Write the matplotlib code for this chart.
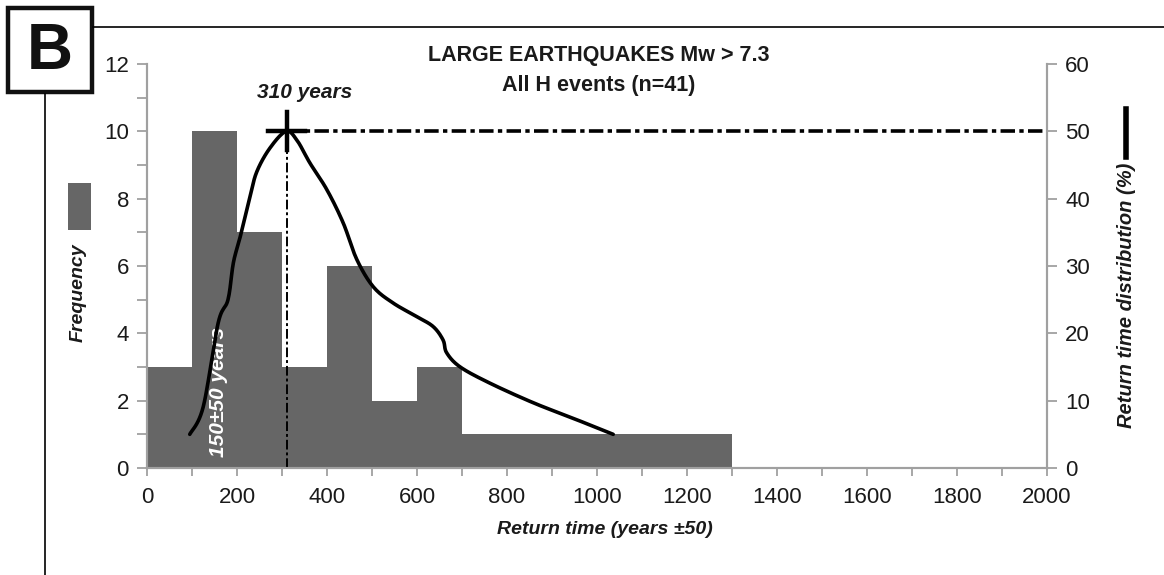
import numpy as np
import matplotlib.pyplot as plt
from matplotlib.patches import Rectangle
from matplotlib.lines import Line2D

plt.rcParams['font.family'] = ['Liberation Sans', 'DejaVu Sans']

# histogram of return times (bins 100 yr wide)
bin_left = [0, 100, 200, 300, 400, 500, 600, 700, 800, 900, 1000, 1100, 1200]
frequency = [3, 10, 7, 3, 6, 2, 3, 1, 1, 1, 1, 1, 1]

# return time distribution curve (%)
curve_years = [95, 125, 158, 180, 192, 207, 229, 244, 273, 309, 333, 362, 400,
               436, 466, 503, 547, 599, 636, 658, 666, 696, 762, 858, 950, 1036]
curve_pct = [5.0, 9.1, 21.5, 25.0, 30.5, 34.3, 40.3, 44.0, 47.5, 50.0, 48.7, 45.3,
             41.3, 36.4, 31.0, 26.9, 24.5, 22.5, 21.0, 19.0, 17.1, 15.0, 12.6,
             9.7, 7.3, 5.0]

peak_year = 310
peak_pct = 50

grey = '#666666'
axis_grey = '#a0a0a0'
txt = '#1a1a1a'


def smooth(xs, ys, n=12):
    # catmull-rom through the points, only to draw a rounded line
    p = np.column_stack([xs, ys]).astype(float)
    p = np.vstack([p[0], p, p[-1]])
    out = []
    t = np.linspace(0, 1, n, endpoint=False)[:, None]
    for i in range(1, len(p) - 2):
        p0, p1, p2, p3 = p[i - 1], p[i], p[i + 1], p[i + 2]
        seg = 0.5 * (2 * p1 + (-p0 + p2) * t + (2 * p0 - 5 * p1 + 4 * p2 - p3) * t ** 2
                     + (-p0 + 3 * p1 - 3 * p2 + p3) * t ** 3)
        out.append(seg)
    out.append(p[-2][None, :])
    out = np.vstack(out)
    return out[:, 0], out[:, 1]


fig = plt.figure(figsize=(11.64, 5.75), dpi=100)
ax = fig.add_axes([147/1164, 1-468/575, 900/1164, 404/575])

ax.bar(bin_left, frequency, width=100, align='edge', color=grey, linewidth=0)
ax.set_xlim(0, 2000)
ax.set_ylim(0, 12)
ax.set_xticks(np.arange(0, 2001, 200))
ax.set_xticks(np.arange(0, 2001, 100), minor=True)
ax.set_yticks(np.arange(0, 13, 2))
ax.set_yticks(np.arange(0, 13, 1), minor=True)

ax2 = ax.twinx()
ax2.set_ylim(0, 60)
ax2.set_yticks(np.arange(0, 61, 10))

for a in (ax, ax2):
    a.spines['top'].set_visible(False)
    for s in ('left', 'right', 'bottom'):
        a.spines[s].set_color(axis_grey)
        a.spines[s].set_linewidth(1.5)
    a.tick_params(which='both', color=axis_grey, width=1.3, length=7,
                  labelcolor=txt, labelsize=16, pad=6)
ax.tick_params(axis='x', which='both', length=6, pad=8)

# curve and markers
sx, sy = smooth(curve_years, curve_pct)
ax2.plot(sx, sy, color='black', lw=2.6, solid_capstyle='round',
         solid_joinstyle='round', zorder=3)
ax2.plot([peak_year, peak_year], [0, peak_pct], color='black', lw=1.4,
         dashes=(5, 1.5, 1.5, 1.5), zorder=2)
ax2.plot([peak_year, 2000], [peak_pct, peak_pct], color='black', lw=2.6,
         dashes=(4, 1.2, 1.2, 1.2), zorder=2)
ax2.plot([peak_year - 42, peak_year + 42], [peak_pct, peak_pct], color='black',
         lw=3.2, zorder=4)
ax2.plot([peak_year, peak_year], [peak_pct - 2.8, peak_pct + 2.8], color='black',
         lw=3.2, zorder=4)

ax2.text(351, 55.8, '310 years', ha='center', va='center', fontsize=15,
         fontweight='bold', style='italic', color=txt)
ax.text(160, 2.25, '150\u00b150 years', ha='center', va='center', rotation=90,
        fontsize=15, fontweight='bold', style='italic', color='white', zorder=5)

# titles and axis labels
fig.text(599/1164, 1-56/575, 'LARGE EARTHQUAKES Mw > 7.3', ha='center',
         va='center', fontsize=15.5, fontweight='bold', color=txt)
fig.text(599/1164, 1-86/575, 'All H events (n=41)', ha='center', va='center',
         fontsize=15.5, fontweight='bold', color=txt)
fig.text(605/1164, 1-529/575, 'Return time (years \u00b150)', ha='center',
         va='center', fontsize=14, fontweight='bold', style='italic', color=txt)
fig.text(78/1164, 1-293/575, 'Frequency', ha='center', va='center',
         rotation=90, fontsize=14, fontweight='bold', style='italic', color=txt)
fig.text(1127/1164, 1-295/575, 'Return time distribution (%)', ha='center',
         va='center', rotation=90, fontsize=14.5, fontweight='bold',
         style='italic', color=txt)

# legend symbols
fig.patches.append(Rectangle((68/1164, 1-230/575), 23/1164, 47/575,
                             transform=fig.transFigure, color=grey, lw=0))
fig.lines.append(Line2D([1126/1164, 1126/1164], [1-109/575, 1-157/575],
                        transform=fig.transFigure, color='black', lw=4))

# panel frame
fig.patches.append(Rectangle((8/1164, 1-92/575), 84/1164, 84/575,
                             transform=fig.transFigure, fill=False,
                             edgecolor='#111111', lw=3.2))
fig.text(50/1164, 1-52/575, 'B', ha='center', va='center', fontsize=46,
         fontweight='bold', color='#111111')
fig.lines.append(Line2D([93/1164, 1], [1-27/575, 1-27/575],
                        transform=fig.transFigure, color='black', lw=1.2))
fig.lines.append(Line2D([45/1164, 45/1164], [1-94/575, 0],
                        transform=fig.transFigure, color='black', lw=1.2))

fig.savefig('out.png', dpi=100)
